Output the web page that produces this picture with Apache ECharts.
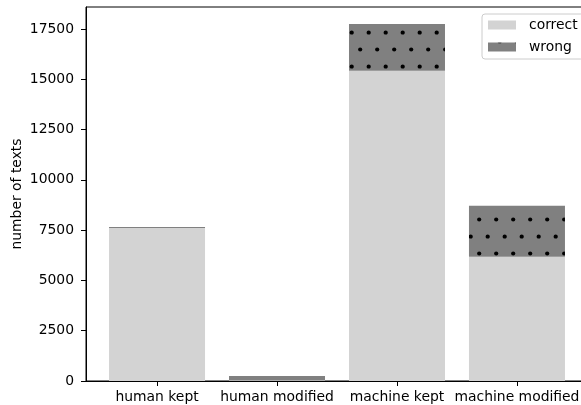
<!DOCTYPE html>
<html>
<head>
<meta charset="utf-8">
<script src="https://cdn.jsdelivr.net/npm/echarts@6/dist/echarts.min.js"></script>
<style>html,body{margin:0;padding:0;background:#fff}#c{width:581px;height:405px}</style>
</head>
<body>
<div id="c"></div>
<script>
const categories = ['human kept', 'human modified', 'machine kept', 'machine modified'];
const correctValues = [7610, 40, 15430, 6180];
const wrongValues = [45, 210, 2320, 2535];
const yTicks = [0, 2500, 5000, 7500, 10000, 12500, 15000, 17500];

function makePattern() {
  const c = document.createElement('canvas');
  c.width = 17; c.height = 34;
  const ctx = c.getContext('2d');
  ctx.fillStyle = '#808080';
  ctx.fillRect(0, 0, 17, 34);
  ctx.fillStyle = '#000';
  const dots = [[11.7, 32.5], [3.2, 15.5]];
  dots.forEach(([x, y]) => {
    for (const dx of [-17, 0, 17]) for (const dy of [-34, 0, 34]) {
      ctx.beginPath();
      ctx.arc(x + dx, y + dy, 2.1, 0, Math.PI * 2);
      ctx.fill();
    }
  });
  return c;
}

const FONT = 'DejaVu Sans';
const FS = 13.9;
const chart = echarts.init(document.getElementById('c'), null, {renderer: 'canvas'});
chart.setOption({
  animation: false,
  textStyle: {fontFamily: FONT},
  grid: {left: 86, top: 7, width: 502, height: 374, show: true, borderColor: '#000', borderWidth: 1,
         backgroundColor: 'transparent', outerBoundsMode: 'none', containLabel: false},
  legend: {
    data: ['correct', 'wrong'],
    orient: 'vertical',
    left: 482, top: 14,
    itemWidth: 28, itemHeight: 9, itemGap: 8,
    padding: [4, 6, 5, 6],
    borderColor: '#cccccc', borderWidth: 1, borderRadius: 3,
    backgroundColor: 'rgba(255,255,255,0.8)',
    icon: 'rect',
    textStyle: {fontFamily: FONT, fontSize: FS, color: '#000', padding: [0, 0, 0, 8]}
  },
  xAxis: {
    type: 'value', min: -0.592, max: 3.592,
    splitLine: {show: false},
    axisLine: {show: true, onZero: false, lineStyle: {color: '#000', width: 1}},
    axisTick: {show: true, length: 5, lineStyle: {color: '#000'}, customValues: [0, 1, 2, 3]},
    axisLabel: {customValues: [0, 1, 2, 3], formatter: v => categories[Math.round(v)], fontFamily: FONT, fontSize: FS, color: '#000', margin: 9}
  },
  yAxis: {
    type: 'value', min: 0, max: 18594,
    name: 'number of texts', nameLocation: 'middle', nameGap: 62, nameMoveOverlap: false,
    nameTextStyle: {fontFamily: FONT, fontSize: FS, color: '#000'},
    splitLine: {show: false},
    axisLine: {show: true, onZero: false, lineStyle: {color: '#000', width: 1}},
    axisTick: {show: true, length: 5, lineStyle: {color: '#000'}, customValues: yTicks},
    axisLabel: {customValues: yTicks, formatter: v => String(v), fontFamily: FONT, fontSize: FS, color: '#000', margin: 12}
  },
  series: [
    {name: 'correct', type: 'bar', stack: 's', barWidth: 96,
     itemStyle: {color: '#d3d3d3'},
     encode: {x: 1, y: 0},
     data: correctValues.map((v, i) => [v, i])},
    {name: 'wrong', type: 'bar', stack: 's', barWidth: 96,
     itemStyle: {color: {image: makePattern(), repeat: 'repeat'}},
     encode: {x: 1, y: 0},
     data: wrongValues.map((v, i) => [v, i])}
  ]
});
</script>
</body>
</html>
